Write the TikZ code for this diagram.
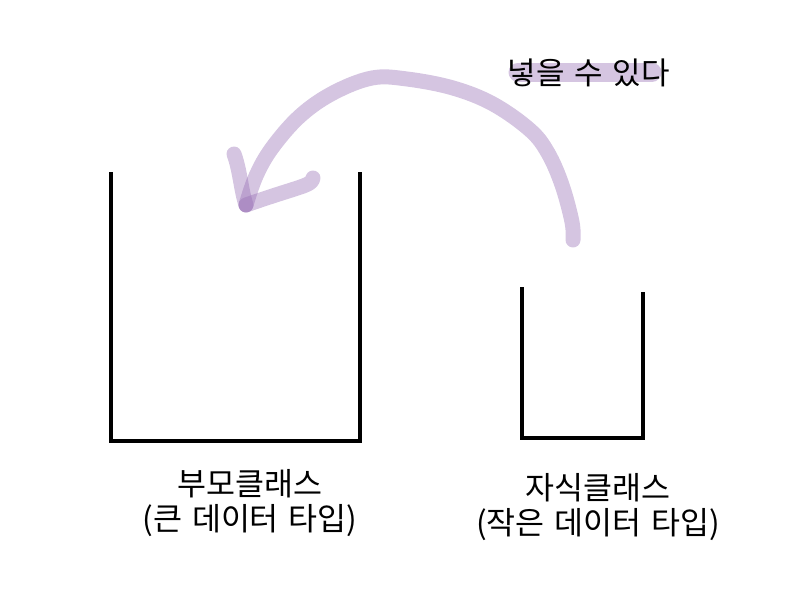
\documentclass[tikz,border=0pt]{standalone}
\usepackage{fontspec}
\newfontfamily\kr[WordSpace=1.4]{Noto Sans CJK KR}
\begin{document}
\begin{tikzpicture}[x=1pt,y=-1pt,
  cup/.style={line width=4pt, line join=miter},
  pen/.style={line width=15pt, line cap=round, line join=round, draw={rgb,255:red,150;green,110;blue,180}, draw opacity=0.4},
  lbl/.style={font=\kr\fontsize{31.5}{36}\selectfont, align=center, text=black, inner sep=0pt},
  toplbl/.style={font=\kr\fontsize{31}{36}\selectfont, text=black, inner sep=0pt}]
\useasboundingbox (0,0) rectangle (802,610);
% highlight behind the label
\draw[pen, line width=19pt] (518,72) -- (652,72);
\node[toplbl, anchor=center] (put) at (589,73) {넣을 수 있다};
% big cup
\draw[cup] (111,172) -- (111,441) -- (360,441) -- (360,172);
% small cup
\draw[cup] (522,287) -- (522,438) -- (643,438) -- (643,292);
% arrow
\coordinate (tip) at (246,205);
\draw[pen] plot[smooth, tension=0.6] coordinates {(573,240) (572,222) (562,185) (548,153) (530,130) (493,104) (453,88) (407,79) (372,78) (333,93) (300,116) (272,148) (256,176) (246,205)};
\draw[pen] (234,154) .. controls (240,170) and (241,190) .. (tip);
\draw[pen] (313,178) .. controls (312,186) and (300,186) .. (tip);
% labels
\node[lbl] (parent) at (250,484) {부모클래스};
\node[lbl] (parentsub) at (250,521) {(큰 데이터 타입)};
\node[lbl] (child) at (598,488) {자식클래스};
\node[lbl] (childsub) at (598,525) {(작은 데이터 타입)};
\end{tikzpicture}
\end{document}
